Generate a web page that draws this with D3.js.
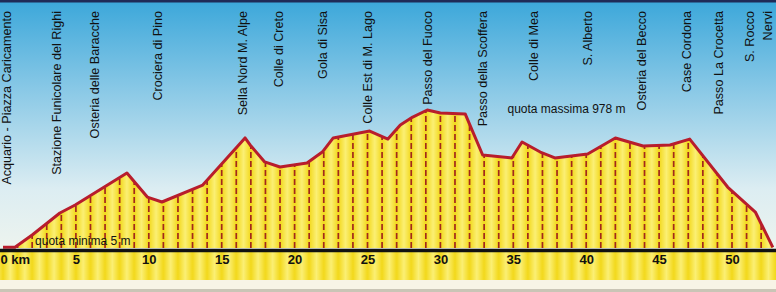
<!DOCTYPE html>
<meta charset="utf-8">
<style>
body, html { margin: 0; padding: 0; background: #fff; }
svg { display: block; font-family: "Liberation Sans", Arial, sans-serif; }
.place { font-size: 12.6px; fill: #111; }
.note { font-size: 12px; fill: #111; }
.axis text { font-size: 13px; font-weight: bold; fill: #111; }
</style>
<body>
<script src="https://d3js.org/d3.v7.min.js"></script>
<script>

var width = 776,
    height = 292

// profile: distance (km) and elevation (m)
var km   = [0, 0.82, 2.0, 3.9, 4.95, 8.5, 9.9, 10.9, 13.7, 16.6, 16.95, 17.95, 19.0, 20.85, 21.9, 22.65,
            25.15, 26.4, 27.25, 28.1, 29.1, 30.0, 31.7, 32.9, 34.9, 35.6, 36.85, 37.85, 40.1, 42.0,
            43.9, 45.75, 47.1, 49.7, 51.6, 52.8]
var quota = [5, 5, 92, 248, 305, 532, 361, 326, 446, 780, 730, 610, 574, 602, 680, 780,
             829, 772, 872, 928, 978, 957, 950, 659, 638, 751, 680, 638, 666, 780,
             723, 730, 772, 432, 255, 5]

var places = ["Acquario - Piazza Caricamento", "Stazione Funicolare del Righi", "Osteria delle Baracche",
              "Crociera di Pino", "Sella Nord M. Alpe", "Colle di Creto", "Gola di Sisa",
              "Colle Est di M. Lago", "Passo del Fuoco", "Passo della Scoffera", "Colle di Mea",
              "S. Alberto", "Osteria del Becco", "Case Cordona", "Passo La Crocetta", "S. Rocco", "Nervi"]
var placeKm = [0.25, 3.7, 6.3, 10.6, 16.4, 18.9, 21.9, 25.0, 29.1, 32.9, 36.4, 40.1, 43.8, 46.9, 49.1, 51.2, 52.45]

var kmTicks = [0, 5, 10, 15, 20, 25, 30, 35, 40, 45, 50]

var notes = [
  {text: "quota minima 5 m", km: 2.2, m: 25},
  {text: "quota massima 978 m", km: 34.6, m: 978}
]

var data = km.map(function(d, i) { return {km: d, m: quota[i]} })

var x = d3.scaleLinear().domain([0, 50]).range([3, 732])
var y = d3.scaleLinear().domain([0, 978]).range([248, 110])

var svg = d3.select("body").append("svg")
    .attr("width", width)
    .attr("height", height)

var defs = svg.append("defs")

var sky = defs.append("linearGradient").attr("id", "sky")
    .attr("x1", 0).attr("y1", 0).attr("x2", 0).attr("y2", 1)
sky.append("stop").attr("offset", "0%").attr("stop-color", "#3ba7da")
sky.append("stop").attr("offset", "35%").attr("stop-color", "#88c8e6")
sky.append("stop").attr("offset", "75%").attr("stop-color", "#dcedf2")
sky.append("stop").attr("offset", "100%").attr("stop-color", "#eef4ee")

var band = defs.append("pattern").attr("id", "band")
    .attr("patternUnits", "userSpaceOnUse")
    .attr("x", x(0)).attr("y", 0)
    .attr("width", x(1) - x(0)).attr("height", 10)
var bandGrad = defs.append("linearGradient").attr("id", "bandGrad")
bandGrad.append("stop").attr("offset", "0%").attr("stop-color", "#f2d81a")
bandGrad.append("stop").attr("offset", "50%").attr("stop-color", "#fbef74")
bandGrad.append("stop").attr("offset", "100%").attr("stop-color", "#f2d81a")
band.append("rect")
    .attr("width", x(1) - x(0)).attr("height", 10)
    .attr("fill", "url(#bandGrad)")

// background
svg.append("rect")
    .attr("width", width).attr("height", 252)
    .attr("fill", "url(#sky)")
svg.append("rect")
    .attr("y", 0).attr("width", width).attr("height", 2.5)
    .attr("fill", "#1f2b58")
svg.append("rect")
    .attr("y", 251).attr("width", width).attr("height", 29)
    .attr("fill", "url(#band)")
svg.append("rect")
    .attr("y", 280).attr("width", width).attr("height", 9)
    .attr("fill", "#f7f4e6")
svg.append("rect")
    .attr("y", 289).attr("width", width).attr("height", 3)
    .attr("fill", "#c9c5b6")

var area = d3.area()
    .x(function(d) { return x(d.km) })
    .y0(y(0))
    .y1(function(d) { return y(d.m) })

var line = d3.line()
    .x(function(d) { return x(d.km) })
    .y(function(d) { return y(d.m) })

defs.append("clipPath").attr("id", "clip")
  .append("path")
    .attr("d", area(data))

svg.append("path")
    .attr("d", area(data))
    .attr("fill", "url(#band)")

// one dashed line per km, clipped to the profile
svg.append("g")
    .attr("clip-path", "url(#clip)")
  .selectAll("line")
  .data(d3.range(1, 53))
  .enter().append("line")
    .attr("x1", function(d) { return x(d) })
    .attr("x2", function(d) { return x(d) })
    .attr("y1", y(0))
    .attr("y2", 100)
    .attr("stroke", "#a3281c")
    .attr("stroke-width", 1.7)
    .attr("stroke-dasharray", "6,3")

svg.append("path")
    .attr("d", line(data))
    .attr("fill", "none")
    .attr("stroke", "#b81d2c")
    .attr("stroke-width", 3)
    .attr("stroke-linejoin", "round")

// baseline
svg.append("line")
    .attr("x1", 0).attr("x2", width)
    .attr("y1", 250.5).attr("y2", 250.5)
    .attr("stroke", "#111")
    .attr("stroke-width", 3.5)

var axis = d3.axisBottom(x)
    .tickValues(kmTicks)
    .tickSize(0)
    .tickPadding(0)
    .tickFormat(function(d) { return d === 0 ? "0 km" : d })

var gAxis = svg.append("g")
    .attr("class", "axis")
    .attr("transform", "translate(0,252)")
    .call(axis)
gAxis.select(".domain").remove()
gAxis.selectAll("text").attr("dy", "0.95em")
gAxis.selectAll(".tick").filter(function(d) { return d === 0 })
    .select("text").attr("text-anchor", "start").attr("x", -3)

svg.selectAll(".place")
  .data(places)
  .enter().append("text")
    .attr("class", "place")
    .attr("transform", function(d, i) { return "translate(" + x(placeKm[i]) + ",11) rotate(-90)" })
    .attr("text-anchor", "end")
    .attr("dy", "0.35em")
    .text(function(d) { return d })

svg.selectAll(".note")
  .data(notes)
  .enter().append("text")
    .attr("class", "note")
    .attr("x", function(d) { return x(d.km) })
    .attr("y", function(d, i) { return i === 0 ? 245 : 113 })
    .text(function(d) { return d.text })

</script>
</body>
